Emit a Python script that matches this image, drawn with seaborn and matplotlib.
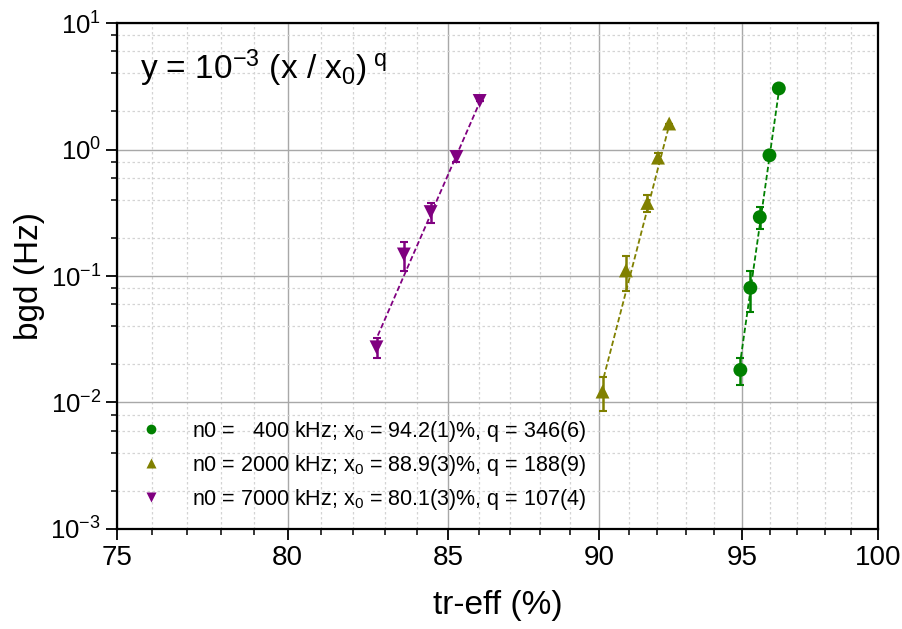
import numpy as np
import pandas as pd
import matplotlib
matplotlib.use("Agg")
from matplotlib import pyplot as plt
from matplotlib.ticker import FixedLocator, FuncFormatter, NullFormatter, LogLocator
import seaborn as sns

# Data
series = ["n0 =   400 kHz; x$_\\mathregular{0}$ = 94.2(1)%, q = 346(6)",
          "n0 = 2000 kHz; x$_\\mathregular{0}$ = 88.9(3)%, q = 188(9)",
          "n0 = 7000 kHz; x$_\\mathregular{0}$ = 80.1(3)%, q = 107(4)"]

x_400 = [94.93, 95.29, 95.63, 95.98, 96.32]
y_400 = [0.0181, 0.0806, 0.292, 0.90, 3.04]
e_400 = [0.0043, 0.029, 0.057, 0.08, 0.0]

x_2000 = [90.11, 90.91, 91.65, 92.02, 92.41]
y_2000 = [0.0122, 0.1106, 0.378, 0.863, 1.605]
e_2000 = [0.0036, 0.034, 0.06, 0.08, 0.0]

x_7000 = [82.73, 83.59, 84.44, 85.27, 86.02]
y_7000 = [0.0273, 0.148, 0.320, 0.873, 2.42]
e_7000 = [0.005, 0.038, 0.058, 0.07, 0.0]

# fit line end points
fit_x_400 = [94.95, 96.32]
fit_y_400 = [0.0228, 2.86]
fit_x_2000 = [90.15, 92.38]
fit_y_2000 = [0.0158, 1.466]
fit_x_7000 = [82.77, 86.05]
fit_y_7000 = [0.0338, 2.45]

colors = ["#008000", "#808000", "#800080"]
markers = ["o", "^", "v"]

df = pd.DataFrame({
    "x": x_400 + x_2000 + x_7000,
    "y": y_400 + y_2000 + y_7000,
    "err": e_400 + e_2000 + e_7000,
    "series": [series[0]] * 5 + [series[1]] * 5 + [series[2]] * 5,
})

sns.set_style("white")
plt.rcParams["font.family"] = ["Liberation Sans", "DejaVu Sans"]
plt.rcParams["mathtext.fontset"] = "custom"
plt.rcParams["mathtext.rm"] = "Liberation Sans"
plt.rcParams["mathtext.it"] = "Liberation Sans"
plt.rcParams["text.color"] = "black"
plt.rcParams["axes.labelcolor"] = "black"

fig = plt.figure(figsize=(9.03, 6.29), dpi=100)
ax = fig.add_axes([0.1296, 0.159, 0.8427, 0.8044])
ax.set_xscale("log")
ax.set_yscale("log")

# fit lines
fits = [(fit_x_400, fit_y_400), (fit_x_2000, fit_y_2000), (fit_x_7000, fit_y_7000)]
for (fx, fy), c in zip(fits, colors):
    sns.lineplot(x=fx, y=fy, color=c, ls=(0, (3, 1.5)), lw=1.3, ax=ax, legend=False)

# error bars
for s, c in zip(series, colors):
    d = df[df.series == s]
    ax.errorbar(d.x, d.y, yerr=d.err, fmt="none", ecolor=c, elinewidth=1.8,
                capsize=3, capthick=1.5, zorder=3)

sns.scatterplot(data=df, x="x", y="y", hue="series", style="series",
                palette=dict(zip(series, colors)), markers=dict(zip(series, markers)),
                s=100, edgecolor="none", ax=ax, zorder=4)

ax.set_xlim(75, 100)
ax.set_ylim(1e-3, 10)

ax.xaxis.set_major_locator(FixedLocator([75, 80, 85, 90, 95, 100]))
ax.xaxis.set_minor_locator(FixedLocator([v for v in range(76, 100) if v % 5]))
ax.xaxis.set_major_formatter(FuncFormatter(lambda v, p: f"{v:g}"))
ax.xaxis.set_minor_formatter(NullFormatter())
ax.yaxis.set_major_locator(LogLocator(base=10, numticks=10))
ax.yaxis.set_minor_locator(LogLocator(base=10, subs=(2, 4, 6, 8), numticks=20))
ax.yaxis.set_minor_formatter(NullFormatter())

ax.grid(True, which="major", color="#a8a8a8", lw=1.0, ls="-")
ax.grid(True, which="minor", color="#d4d4d4", lw=0.9, ls=(0, (2, 2)))
ax.set_axisbelow(True)

for sp in ax.spines.values():
    sp.set_color("black")
    sp.set_linewidth(1.6)

ax.tick_params(which="major", direction="out", length=8, width=1.3,
               bottom=True, left=True, colors="black")
ax.tick_params(axis="x", which="major", labelsize=20)
ax.tick_params(axis="y", which="major", labelsize=18.5)
ax.tick_params(which="minor", direction="out", length=4, width=1.1, bottom=True, left=True,
               colors="black")

ax.set_xlabel("tr-eff (%)", fontsize=24, labelpad=14)
ax.set_ylabel("bgd (Hz)", fontsize=24, labelpad=4)

ax.text(0.03, 0.89, "y = 10$^\\mathregular{-3}$ (x / x$_\\mathregular{0}$)$^\\mathregular{\\ q}$",
        transform=ax.transAxes, fontsize=24, va="baseline", ha="left")

handles, labels = ax.get_legend_handles_labels()
ax.legend(handles, labels, loc="upper left", bbox_to_anchor=(0.005, 0.235),
          frameon=False, fontsize=15.5, handletextpad=0.9, labelspacing=0.42,
          markerscale=0.7, borderaxespad=0)

fig.savefig("out.png", dpi=100)
